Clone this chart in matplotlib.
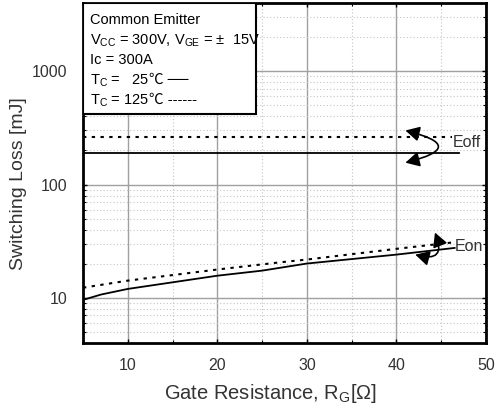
import matplotlib
matplotlib.use('Agg')
import matplotlib.pyplot as plt
from matplotlib.patches import Rectangle, FancyArrowPatch
from matplotlib.ticker import FixedLocator, NullFormatter, LogLocator

plt.rcParams['font.family'] = ['Liberation Sans', 'Noto Sans CJK KR', 'DejaVu Sans']
plt.rcParams['mathtext.fontset'] = 'custom'
plt.rcParams['mathtext.rm'] = 'Liberation Sans'

# Switching loss vs gate resistance
eoff_rg = [5, 47]
eoff_25 = [188, 188]
eoff_rg_125 = [5, 46.2]
eoff_125 = [262, 262]

eon_rg_25 = [5, 7, 10, 20, 25, 30, 40, 46.5]
eon_25 = [9.6, 10.7, 12.0, 15.7, 17.4, 20.1, 24.1, 27.6]
eon_rg_125 = [5, 10, 20, 27, 30, 40, 46.5]
eon_125 = [12.3, 14.2, 17.8, 20.6, 21.8, 27.1, 31.0]

x_ticks = [10, 20, 30, 40, 50]

fig = plt.figure(figsize=(4.97, 4.13), dpi=100)
ax = fig.add_axes([83 / 497, 1 - 343 / 413, 403 / 497, 340 / 413])

dots = (0, (1.6, 2.6))
ax.plot(eoff_rg, eoff_25, color='black', lw=1.3, zorder=3)
ax.plot(eoff_rg_125, eoff_125, color='black', lw=1.5, ls=dots, zorder=3)
ax.plot(eon_rg_25, eon_25, color='black', lw=1.3, zorder=3)
ax.plot(eon_rg_125, eon_125, color='black', lw=1.5, ls=dots, zorder=3)

ax.set_yscale('log')
ax.set_xlim(5, 50)
ax.set_ylim(4, 4000)

ax.xaxis.set_major_locator(FixedLocator(x_ticks))
ax.xaxis.set_minor_locator(FixedLocator([5, 15, 25, 35, 45]))
ax.yaxis.set_minor_locator(LogLocator(base=10, subs=range(2, 10), numticks=20))
ax.yaxis.set_minor_formatter(NullFormatter())
ax.set_yticks([10, 100, 1000])
ax.set_yticklabels(['10', '100', '1000'])

ax.grid(which='major', color='#a0a0a0', lw=1.0, ls='-', zorder=0)
ax.grid(which='minor', color='#c4c4c4', lw=0.8, ls=(0, (1, 2)), zorder=0)
ax.set_axisbelow(True)

ax.tick_params(which='both', direction='in', top=True, right=True, color='black')
ax.tick_params(which='major', length=3, width=1, labelsize=11.5, pad=11, labelcolor='#333333')
ax.tick_params(which='minor', length=2, width=0.8)
for s in ax.spines.values():
    s.set_linewidth(2)

ax.set_xlabel('Gate Resistance, R$_\\mathregular{G}$[Ω]', fontsize=14.5, color='#333333')
ax.set_ylabel('Switching Loss [mJ]', fontsize=14, color='#333333')
ax.xaxis.set_label_coords(0.466, -0.115)
ax.yaxis.set_label_coords(-0.139, 0.468)

# condition box
ax.add_patch(Rectangle((0, 0.674), 0.429, 0.326, transform=ax.transAxes,
                       facecolor='white', edgecolor='black', lw=1.5, zorder=4))
lines = [
    ('Common Emitter', ''),
    ('V$_\\mathregular{CC}$ = 300V, V$_\\mathregular{GE}$ = ±  15V', ''),
    ('Ic = 300A', ''),
    ('T$_\\mathregular{C}$ =   25', '℃ ──'),
    ('T$_\\mathregular{C}$ = 125', '℃ ------'),
]
for i, (t, tail) in enumerate(lines):
    y = 0.938 - i * 0.0588
    txt = ax.text(0.017, y, t, transform=ax.transAxes, fontsize=10.5,
                  va='baseline', ha='left', zorder=5)
    if tail:
        # plain text continuation so the ℃ sign falls back to the CJK font
        ax.annotate(tail, xy=(1, y), xycoords=(txt, 'axes fraction'), fontsize=10.5,
                    va='baseline', ha='left', zorder=5)

ax.text(46.3, 235, 'Eoff', fontsize=11.5, color='#333333', va='center', ha='left', zorder=5)
ax.text(46.5, 28.5, 'Eon', fontsize=11.5, color='#333333', va='center', ha='left', zorder=5)

# curved arrows showing temperature shift
style = '<|-|>,head_length=0.6,head_width=0.32'
arr1 = FancyArrowPatch((41.0, 300), (41.0, 156), connectionstyle='arc3,rad=-2.0',
                       arrowstyle=style, mutation_scale=14, color='black', lw=1.2,
                       shrinkA=0, shrinkB=0, zorder=5)
arr2 = FancyArrowPatch((44.3, 37.7), (42.1, 24.1), connectionstyle='arc3,rad=-1.0',
                       arrowstyle=style, mutation_scale=14, color='black', lw=1.2,
                       shrinkA=0, shrinkB=0, zorder=5)
ax.add_patch(arr1)
ax.add_patch(arr2)

fig.savefig('out.png', dpi=100)
